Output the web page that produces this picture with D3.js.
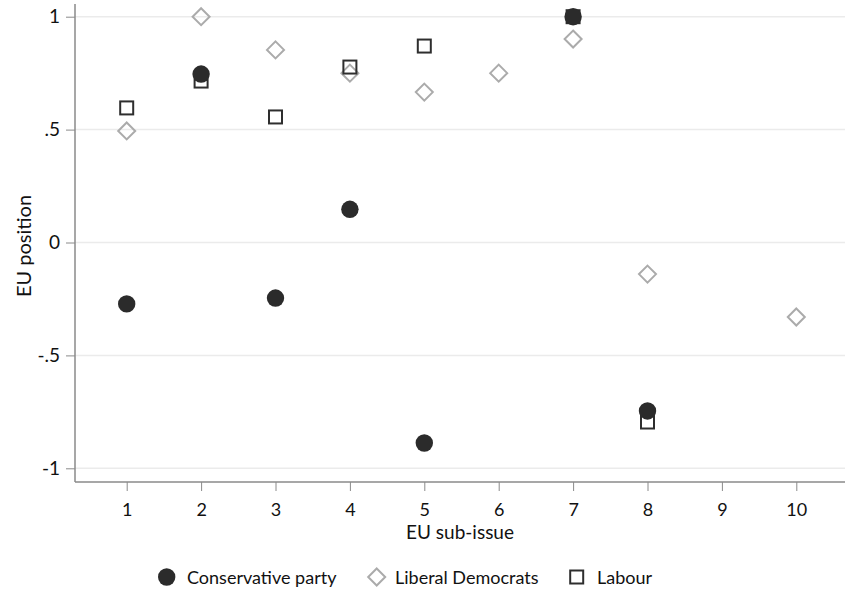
<!DOCTYPE html>
<html><head><meta charset="utf-8">
<script src="https://cdn.jsdelivr.net/npm/d3@7"></script>
<style>body{margin:0;background:#fff}svg{display:block}text{font-family:Lato,"Open Sans",sans-serif;fill:#111}</style>
</head><body><svg width="845" height="592"></svg>
<script>
const issues = [1,2,3,4,5,6,7,8,9,10];
const yTicks = [-1,-0.5,0,0.5,1];
const yTickLabels = ["-1","-.5","0",".5","1"];
const conservativeX = [1,2,3,4,5,7,8];
const conservativeY = [-0.272,0.746,-0.246,0.147,-0.888,1,-0.746];
const libdemX = [1,2,3,4,5,6,7,8,10];
const libdemY = [0.494,1,0.853,0.75,0.666,0.75,0.901,-0.14,-0.33];
const labourX = [1,2,3,4,5,7,8];
const labourY = [0.596,0.715,0.556,0.777,0.87,1,-0.795];
const seriesNames = ["Conservative party","Liberal Democrats","Labour"];

const svg = d3.select("svg");
const pLeft = 75, pRight = 845, pTop = 0, pBottom = 482;
const x = d3.scaleLinear().domain([1,10]).range([126.7,796.3]);
const y = d3.scaleLinear().domain([-1,1]).range([468.3,16.7]);

// gridlines
svg.append("g").selectAll("line").data(yTicks).join("line")
  .attr("x1",pLeft).attr("x2",pRight).attr("y1",d=>y(d)).attr("y2",d=>y(d))
  .attr("stroke","#ebebeb").attr("stroke-width",1.5);

// y axis
const ya = svg.append("g").attr("transform",`translate(${pLeft},0)`)
  .call(d3.axisLeft(y).tickValues(yTicks).tickSize(9).tickPadding(6).tickFormat((d,i)=>yTickLabels[i]));
ya.select(".domain").attr("d",`M0,${pTop+4}V${pBottom}`).attr("stroke","#8a8a8a").attr("stroke-width",1.5);
ya.selectAll(".tick line").attr("stroke","#8a8a8a");
ya.selectAll(".tick text").attr("font-size",19).attr("font-family","Lato").attr("fill","#111");

// x axis
const xa = svg.append("g").attr("transform",`translate(0,${pBottom})`)
  .call(d3.axisBottom(x).tickValues(issues).tickSize(9).tickPadding(12).tickFormat(d3.format("d")));
xa.select(".domain").attr("d",`M${pLeft},0H${pRight}`).attr("stroke","#8a8a8a").attr("stroke-width",1.5);
xa.selectAll(".tick line").attr("stroke","#8a8a8a");
xa.selectAll(".tick text").attr("font-size",18).attr("font-family","Lato").attr("fill","#111");

// titles
svg.append("text").attr("x",(pLeft+pRight)/2).attr("y",539).attr("text-anchor","middle").attr("font-size",19).text("EU sub-issue");
svg.append("text").attr("transform","translate(31,246) rotate(-90)").attr("text-anchor","middle").attr("font-size",20).text("EU position");

const diamond = (cx,cy,r)=>`M${cx},${cy-r}L${cx+r},${cy}L${cx},${cy+r}L${cx-r},${cy}Z`;

// Liberal Democrats
svg.append("g").selectAll("path").data(libdemX).join("path")
  .attr("d",(d,i)=>diamond(x(d),y(libdemY[i]),8.5))
  .attr("fill","none").attr("stroke","#ababab").attr("stroke-width",2);
// Labour
svg.append("g").selectAll("rect").data(labourX).join("rect")
  .attr("x",d=>x(d)-6.5).attr("y",(d,i)=>y(labourY[i])-6.5).attr("width",13).attr("height",13)
  .attr("fill","none").attr("stroke","#2e2e2e").attr("stroke-width",2);
// Conservative
svg.append("g").selectAll("circle").data(conservativeX).join("circle")
  .attr("cx",d=>x(d)).attr("cy",(d,i)=>y(conservativeY[i])).attr("r",8.7).attr("fill","#2b2b2b");

// legend
const lg = svg.append("g");
lg.append("circle").attr("cx",166.7).attr("cy",577).attr("r",8.7).attr("fill","#2b2b2b");
lg.append("path").attr("d",diamond(376.7,577,8.5)).attr("fill","none").attr("stroke","#ababab").attr("stroke-width",2);
lg.append("rect").attr("x",570.2).attr("y",570.5).attr("width",13).attr("height",13).attr("fill","none").attr("stroke","#2e2e2e").attr("stroke-width",2);
const lx = [187,395,597];
lg.selectAll("text").data(seriesNames).join("text").attr("x",(d,i)=>lx[i]).attr("y",584).attr("font-size",18).text(d=>d);
</script></body></html>
